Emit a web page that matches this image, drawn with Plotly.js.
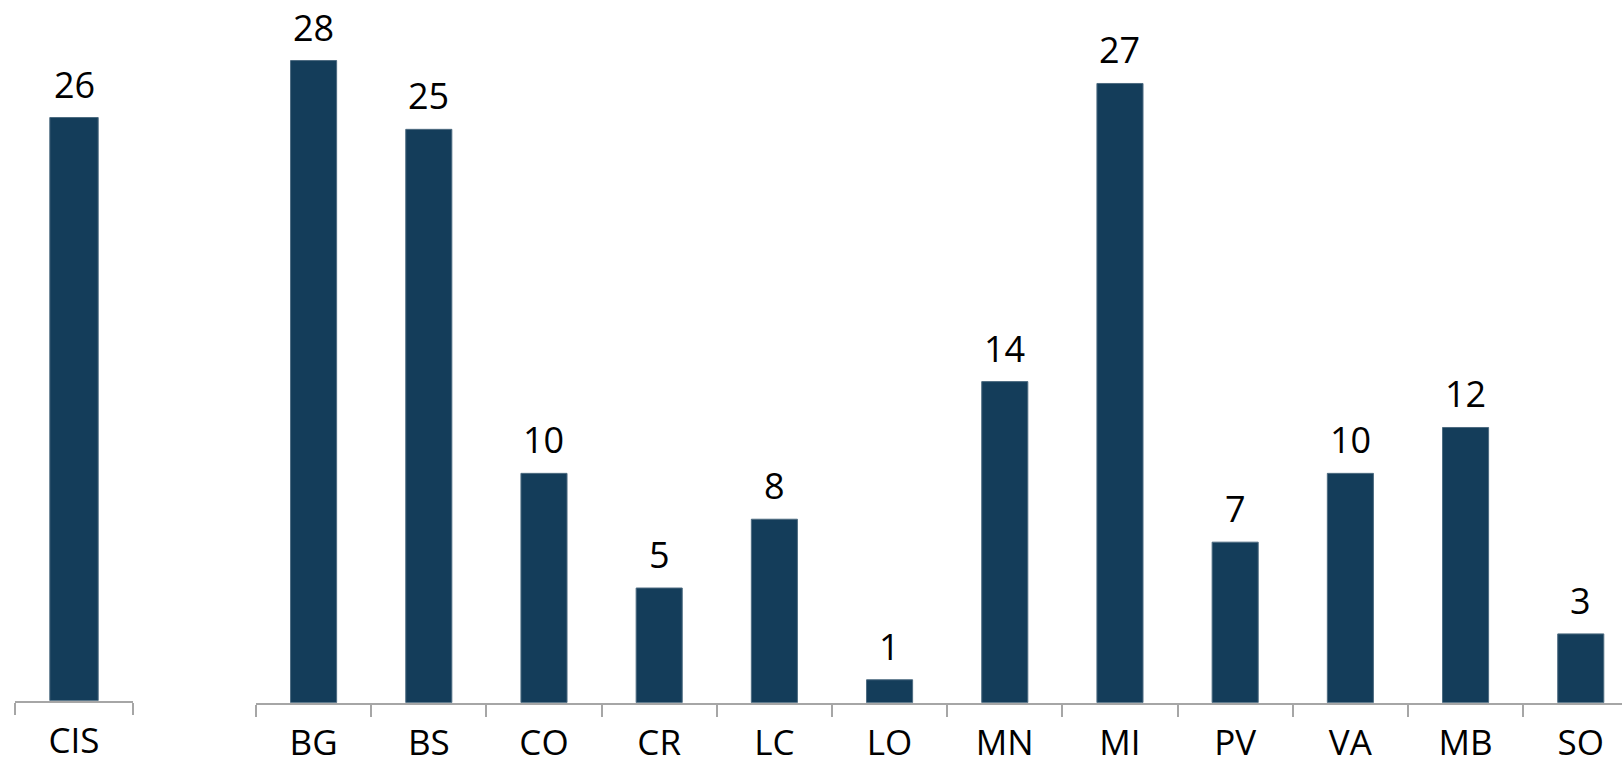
<!DOCTYPE html>
<html>
<head>
<meta charset="utf-8">
<script src="https://cdn.plot.ly/plotly-3.0.1.min.js"></script>
<style>html,body{margin:0;padding:0;background:#fff;}#chart{width:1622px;height:767px;}</style>
</head>
<body>
<div id="chart"></div>
<script>
const leftCategories = ["CIS"];
const leftValues = [26];
const rightCategories = ["BG", "BS", "CO", "CR", "LC", "LO", "MN", "MI", "PV", "VA", "MB", "SO"];
const rightValues = [28, 25, 10, 5, 8, 1, 14, 27, 7, 10, 12, 3];

const barColor = "#143d5a";
const axisColor = "#a6a6a6";
const fontFamily = "Open Sans, Lato, sans-serif";
const fontSize = 36;

const traces = [
  {type: "bar", x: leftCategories, y: leftValues, xaxis: "x", yaxis: "y", width: 0.41,
   marker: {color: barColor, line: {color: "#4d6b80", width: 1}}, hoverinfo: "skip"},
  {type: "bar", x: rightCategories, y: rightValues, xaxis: "x2", yaxis: "y2", width: 0.4,
   marker: {color: barColor, line: {color: "#4d6b80", width: 1}}, hoverinfo: "skip"}
];

const annotations = [];
leftCategories.forEach((c, i) => annotations.push({x: c, y: leftValues[i], xref: "x", yref: "y",
  text: String(leftValues[i]), showarrow: false, yanchor: "bottom", yshift: 7,
  font: {family: fontFamily, size: fontSize, color: "#000"}}));
rightCategories.forEach((c, i) => annotations.push({x: c, y: rightValues[i], xref: "x2", yref: "y2",
  text: String(rightValues[i]), showarrow: false, yanchor: "bottom", yshift: 7,
  font: {family: fontFamily, size: fontSize, color: "#000"}}));

const xCommon = {
  type: "category", showline: true, linecolor: axisColor, linewidth: 2,
  ticks: "outside", tickson: "boundaries", ticklen: 12, tickcolor: axisColor, tickwidth: 2,
  ticklabelstandoff: 8,
  showgrid: false, zeroline: false, fixedrange: true,
  tickfont: {family: fontFamily, size: 35, color: "#000"}
};

const layout = {
  width: 1622, height: 767,
  margin: {l: 0, r: 0, t: 0, b: 0},
  paper_bgcolor: "#fff", plot_bgcolor: "#fff",
  showlegend: false,
  xaxis: Object.assign({}, xCommon, {domain: [15/1622, 133/1622], range: [-0.5, 0.5], anchor: "y"}),
  yaxis: {domain: [66.3/767, 1], range: [0, 31.24], visible: false, fixedrange: true},
  xaxis2: Object.assign({}, xCommon, {domain: [256/1622, 1], range: [-0.5, 11.358], anchor: "y2"}),
  yaxis2: {domain: [64.3/767, 1], range: [0, 30.64], visible: false, fixedrange: true},
  annotations: annotations
};

Plotly.newPlot("chart", traces, layout, {displayModeBar: false, staticPlot: true});
</script>
</body>
</html>
